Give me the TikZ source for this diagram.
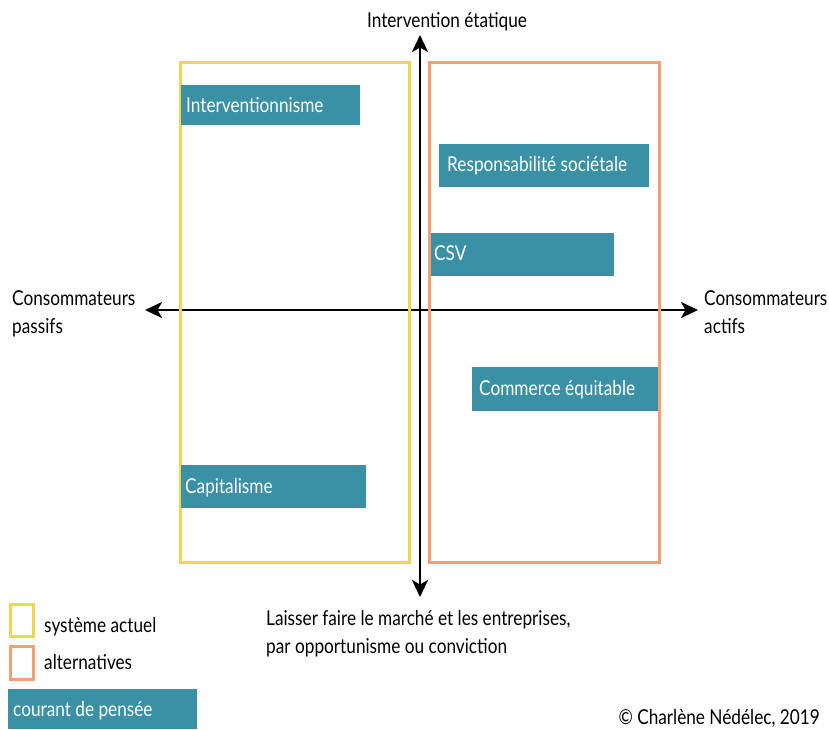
\documentclass[tikz,border=0pt]{standalone}
\usepackage{fontspec}
\setmainfont[FakeStretch=0.84]{Lato}
\usetikzlibrary{arrows.meta}
\definecolor{teal}{HTML}{3A91A5}
\definecolor{cyellow}{HTML}{F2D54B}
\definecolor{corange}{HTML}{F5A072}
\tikzset{
  tip/.tip={Stealth[length=17pt,width=16pt,inset=4.5pt]},
  axis/.style={line width=2.6pt,tip-tip},
  zone/.style={line width=3pt},
  courant/.style={fill=teal,draw=none},
  boxtext/.style={text=white,anchor=base west,inner sep=0pt,font=\fontsize{20.5}{24}\selectfont},
  lbl/.style={text=black,anchor=base west,inner sep=0pt,font=\fontsize{20.5}{24}\selectfont},
}
\begin{document}
\begin{tikzpicture}[x=1pt,y=-1pt]
\useasboundingbox (0,0) rectangle (829,729);
% axes
\coordinate (top) at (420,35);
\coordinate (bot) at (420,597);
\coordinate (left) at (145,310);
\coordinate (right) at (698,310);
\draw[axis] (top) -- (bot);
\draw[axis] (left) -- (right);
% zones
\draw[zone,cyellow] (180,62) rectangle (409,562);
\draw[zone,corange] (429,62) rectangle (659,562);
% schools of thought
\fill[courant] (181,85) rectangle (360,125);
\node[boxtext] (interv) at (186,112) {Interventionnisme};
\fill[courant] (439,144) rectangle (649,187);
\node[boxtext] (rse) at (447,171) {Responsabilité sociétale};
\fill[courant] (431,233) rectangle (614,276);
\node[boxtext] (csv) at (434,260) {CSV};
\fill[courant] (472,367) rectangle (658,411);
\node[boxtext] (ce) at (479,395) {Commerce équitable};
\fill[courant] (181,465) rectangle (366,508);
\node[boxtext] (capi) at (185,493) {Capitalisme};
% axis labels
\node[lbl,anchor=base] (ie) at (447,27) {Intervention étatique};
\node[lbl] (cp1) at (12,305) {Consommateurs};
\node[lbl] (cp2) at (12,333) {passifs};
\node[lbl] (ca1) at (704,305) {Consommateurs};
\node[lbl] (ca2) at (704,333) {actifs};
\node[lbl] (lf1) at (266,625) {Laisser faire le marché et les entreprises,};
\node[lbl] (lf2) at (266,653) {par opportunisme ou conviction};
% legend
\draw[zone,cyellow] (10,604) rectangle (33,636);
\node[lbl] (l1) at (44,632) {système actuel};
\draw[zone,corange] (10,646) rectangle (33,679);
\node[lbl] (l2) at (44,669) {alternatives};
\fill[courant] (8,689) rectangle (197,729);
\node[boxtext] (l3) at (13,716) {courant de pensée};
\node[lbl,anchor=base east] (copy) at (820,724) {© Charlène Nédélec, 2019};
\end{tikzpicture}
\end{document}
